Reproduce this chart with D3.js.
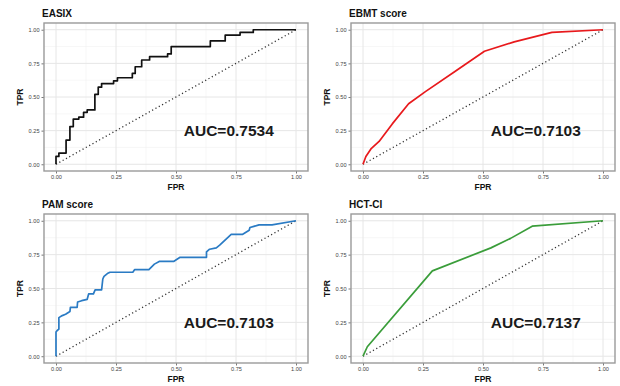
<!DOCTYPE html>
<html>
<head>
<meta charset="utf-8">
<script src="https://cdn.jsdelivr.net/npm/d3@7"></script>
<style>
  body { margin: 0; background: #fff; }
  svg { display: block; font-family: "Liberation Sans", Arial, sans-serif; }
</style>
</head>
<body>
<div id="main"></div>
<script>
// ROC curves
var easixFpr = [0, 0.012, 0.042, 0.058, 0.072, 0.095, 0.115, 0.13, 0.162, 0.176, 0.19, 0.24, 0.256, 0.318, 0.33, 0.357, 0.39, 0.465, 0.48, 0.643, 0.705, 0.767, 0.822, 1];
var easixTpr = [0, 0.058, 0.083, 0.18, 0.28, 0.336, 0.35, 0.386, 0.404, 0.52, 0.573, 0.6, 0.62, 0.643, 0.675, 0.725, 0.775, 0.8, 0.82, 0.875, 0.917, 0.96, 0.98, 1];

var ebmtFpr = [0, 0.012, 0.033, 0.067, 0.122, 0.19, 0.26, 0.383, 0.506, 0.63, 0.787, 1];
var ebmtTpr = [0, 0.058, 0.114, 0.17, 0.3, 0.45, 0.54, 0.69, 0.84, 0.91, 0.98, 1];

var pamFpr = [0, 0, 0.005, 0.012, 0.012, 0.026, 0.04, 0.058, 0.06, 0.088, 0.09, 0.107, 0.13, 0.136, 0.156, 0.163, 0.19, 0.195, 0.2, 0.214, 0.225, 0.32, 0.328, 0.387, 0.41, 0.43, 0.49, 0.517, 0.627, 0.627, 0.64, 0.668, 0.682, 0.73, 0.778, 0.805, 0.808, 0.846, 0.9, 1];
var pamTpr = [0, 0.178, 0.19, 0.2, 0.285, 0.3, 0.31, 0.33, 0.36, 0.36, 0.4, 0.41, 0.42, 0.46, 0.46, 0.49, 0.49, 0.57, 0.59, 0.61, 0.62, 0.62, 0.64, 0.64, 0.68, 0.70, 0.70, 0.73, 0.73, 0.77, 0.79, 0.80, 0.82, 0.90, 0.90, 0.93, 0.95, 0.97, 0.97, 1];

var hctFpr = [0, 0.018, 0.289, 0.533, 0.615, 0.705, 1];
var hctTpr = [0, 0.07, 0.63, 0.80, 0.87, 0.96, 1];

var titles = ["EASIX", "EBMT score", "PAM score", "HCT-CI"];
var aucLabels = ["AUC=0.7534", "AUC=0.7103", "AUC=0.7103", "AUC=0.7137"];
var colors = ["#111111", "#e8191c", "#2a7bc4", "#3a9d3a"];
var ticks = [0, 0.25, 0.5, 0.75, 1];

var panels = [
  { fpr: easixFpr, tpr: easixTpr, step: true,  left: 44,  top: 23,  w: 264, h: 148 },
  { fpr: ebmtFpr,  tpr: ebmtTpr,  step: false, left: 351, top: 23,  w: 264, h: 148 },
  { fpr: pamFpr,   tpr: pamTpr,   step: false, left: 44,  top: 214, w: 264, h: 149 },
  { fpr: hctFpr,   tpr: hctTpr,   step: false, left: 351, top: 214, w: 264, h: 149 }
];

var svg = d3.select("#main").append("svg")
  .attr("width", 620)
  .attr("height", 386);

panels.forEach(function(p, i) {
  var x = d3.scaleLinear().domain([-0.05, 1.05]).range([p.left, p.left + p.w]);
  var y = d3.scaleLinear().domain([-0.05, 1.05]).range([p.top + p.h, p.top]);
  var g = svg.append("g");

  g.append("rect")
    .attr("x", p.left).attr("y", p.top)
    .attr("width", p.w).attr("height", p.h)
    .style("fill", "#fff");

  // minor grid
  var minor = [0.125, 0.375, 0.625, 0.875];
  g.selectAll(".mx").data(minor).enter().append("line")
    .attr("x1", d => x(d)).attr("x2", d => x(d))
    .attr("y1", p.top).attr("y2", p.top + p.h)
    .style("stroke", "#f2f2f2").style("stroke-width", 0.6);
  g.selectAll(".my").data(minor).enter().append("line")
    .attr("y1", d => y(d)).attr("y2", d => y(d))
    .attr("x1", p.left).attr("x2", p.left + p.w)
    .style("stroke", "#f2f2f2").style("stroke-width", 0.6);
  // major grid
  g.selectAll(".gx").data(ticks).enter().append("line")
    .attr("x1", d => x(d)).attr("x2", d => x(d))
    .attr("y1", p.top).attr("y2", p.top + p.h)
    .style("stroke", "#e6e6e6").style("stroke-width", 1);
  g.selectAll(".gy").data(ticks).enter().append("line")
    .attr("y1", d => y(d)).attr("y2", d => y(d))
    .attr("x1", p.left).attr("x2", p.left + p.w)
    .style("stroke", "#e6e6e6").style("stroke-width", 1);

  // axes
  var xa = g.append("g").attr("transform", "translate(0," + (p.top + p.h) + ")")
    .call(d3.axisBottom(x).tickValues(ticks).tickFormat(d3.format(".2f")).tickSize(2.5).tickPadding(1.5));
  var ya = g.append("g").attr("transform", "translate(" + p.left + ",0)")
    .call(d3.axisLeft(y).tickValues(ticks).tickFormat(d3.format(".2f")).tickSize(2.5).tickPadding(2));
  [xa, ya].forEach(function(a) {
    a.select(".domain").remove();
    a.selectAll("line").style("stroke", "#555").style("stroke-width", 0.8);
    a.selectAll("text").style("font-size", "5.6px").style("fill", "#444").style("font-family", "inherit");
  });

  // diagonal reference
  g.append("line")
    .attr("x1", x(0)).attr("y1", y(0)).attr("x2", x(1)).attr("y2", y(1))
    .style("stroke", "#333").style("stroke-width", 1.3)
    .style("stroke-dasharray", "1.2,2.6");

  // ROC curve
  var line = d3.line()
    .x(d => x(d[0])).y(d => y(d[1]))
    .curve(p.step ? d3.curveStepBefore : d3.curveLinear);
  g.append("path")
    .datum(d3.zip(p.fpr, p.tpr))
    .attr("d", line)
    .style("fill", "none")
    .style("stroke", colors[i])
    .style("stroke-width", 1.7)
    .style("stroke-linejoin", "round");

  // panel border
  g.append("rect")
    .attr("x", p.left).attr("y", p.top)
    .attr("width", p.w).attr("height", p.h)
    .style("fill", "none").style("stroke", "#9a9a9a").style("stroke-width", 1.4);

  g.append("text")
    .attr("x", x(0.72)).attr("y", y(0.25) + 5.5)
    .attr("text-anchor", "middle")
    .style("font-size", "15.5px").style("font-weight", "bold").style("fill", "#1a1a1a")
    .text(aucLabels[i]);

  g.append("text")
    .attr("x", p.left - 2).attr("y", p.top - 6)
    .style("font-size", "10px").style("font-weight", "bold").style("fill", "#111")
    .text(titles[i]);

  g.append("text")
    .attr("x", p.left + p.w / 2).attr("y", p.top + p.h + 18.5)
    .attr("text-anchor", "middle")
    .style("font-size", "8.5px").style("font-weight", "bold").style("fill", "#111")
    .text("FPR");

  g.append("text")
    .attr("transform", "translate(" + (p.left - 21) + "," + (p.top + p.h / 2) + ") rotate(-90)")
    .attr("text-anchor", "middle")
    .style("font-size", "8.5px").style("font-weight", "bold").style("fill", "#111")
    .text("TPR");
});
</script>
</body>
</html>
